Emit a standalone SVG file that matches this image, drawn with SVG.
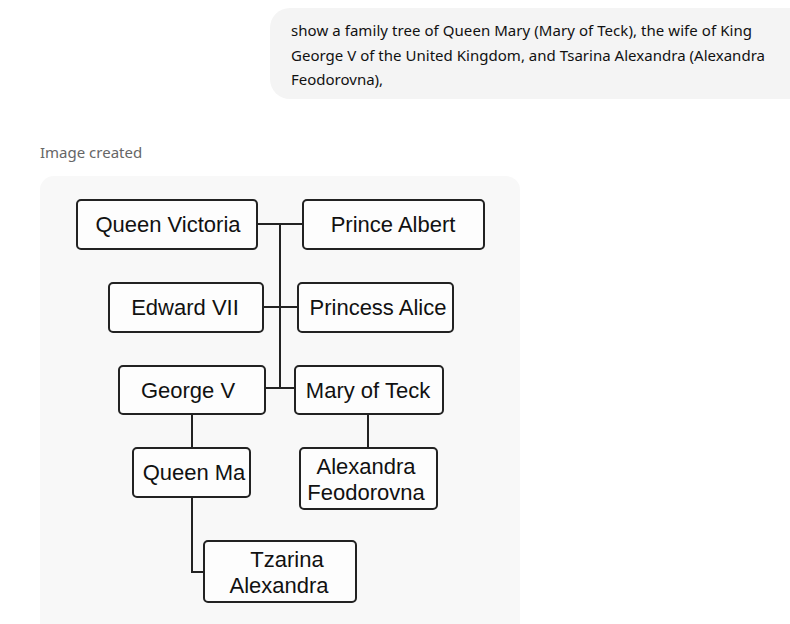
<svg xmlns="http://www.w3.org/2000/svg" width="790" height="624" viewBox="0 0 790 624">
<style>
.chat{font-family:"Noto Sans","Open Sans",sans-serif;font-size:15px;fill:#111}
.cap{font-family:"Noto Sans","Open Sans",sans-serif;font-size:15px;fill:#666}
.box{fill:#fdfdfd;stroke:#222;stroke-width:2}
.lbl{font-family:"Liberation Sans",Arial,sans-serif;font-size:22px;fill:#111;text-anchor:middle}
.ln{fill:none;stroke:#222;stroke-width:2}
</style>
<rect x="0" y="0" width="790" height="624" fill="#ffffff"/>
<g id="chat-bubble">
<rect x="270" y="8" width="540" height="91" rx="20" fill="#f4f4f4"/>
<text class="chat" x="291" y="36" textLength="461">show a family tree of Queen Mary (Mary of Teck), the wife of King</text>
<text class="chat" x="291" y="61" textLength="474">George V of the United Kingdom, and Tsarina Alexandra (Alexandra</text>
<text class="chat" x="291" y="85">Feodorovna),</text>
</g>
<text class="cap" x="40" y="158">Image created</text>
<rect x="40" y="176" width="480" height="470" rx="14" fill="#f8f8f8"/>
<g id="connectors">
<path class="ln" d="M257 224H303M280 224V388M263 307H298M265 388H295"/>
<path class="ln" d="M192 414V448M368 414V448M192 497V572H204"/>
</g>
<g id="queen-victoria"><rect class="box" x="77" y="200" width="180" height="49" rx="4"/><text class="lbl" x="168" y="232">Queen Victoria</text></g>
<g id="prince-albert"><rect class="box" x="303" y="200" width="181" height="49" rx="4"/><text class="lbl" x="393" y="232">Prince Albert</text></g>
<g id="edward-vii"><rect class="box" x="109" y="283" width="154" height="49" rx="4"/><text class="lbl" x="185" y="315">Edward VII</text></g>
<g id="princess-alice"><rect class="box" x="298" y="283" width="155" height="49" rx="4"/><text class="lbl" x="378" y="315">Princess Alice</text></g>
<g id="george-v"><rect class="box" x="119" y="366" width="146" height="48" rx="4"/><text class="lbl" x="188" y="398">George V</text></g>
<g id="mary-of-teck"><rect class="box" x="295" y="366" width="148" height="48" rx="4"/><text class="lbl" x="368" y="398">Mary of Teck</text></g>
<g id="queen-ma"><rect class="box" x="133" y="448" width="117" height="49" rx="4"/><text class="lbl" x="194" y="480">Queen Ma</text></g>
<g id="alexandra-feodorovna"><rect class="box" x="300" y="448" width="137" height="61" rx="4"/><text class="lbl" x="366" y="474">Alexandra</text><text class="lbl" x="366" y="500">Feodorovna</text></g>
<g id="tzarina-alexandra"><rect class="box" x="204" y="541" width="152" height="61" rx="4"/><text class="lbl" x="287" y="567">Tzarina</text><text class="lbl" x="279" y="593">Alexandra</text></g>
</svg>
